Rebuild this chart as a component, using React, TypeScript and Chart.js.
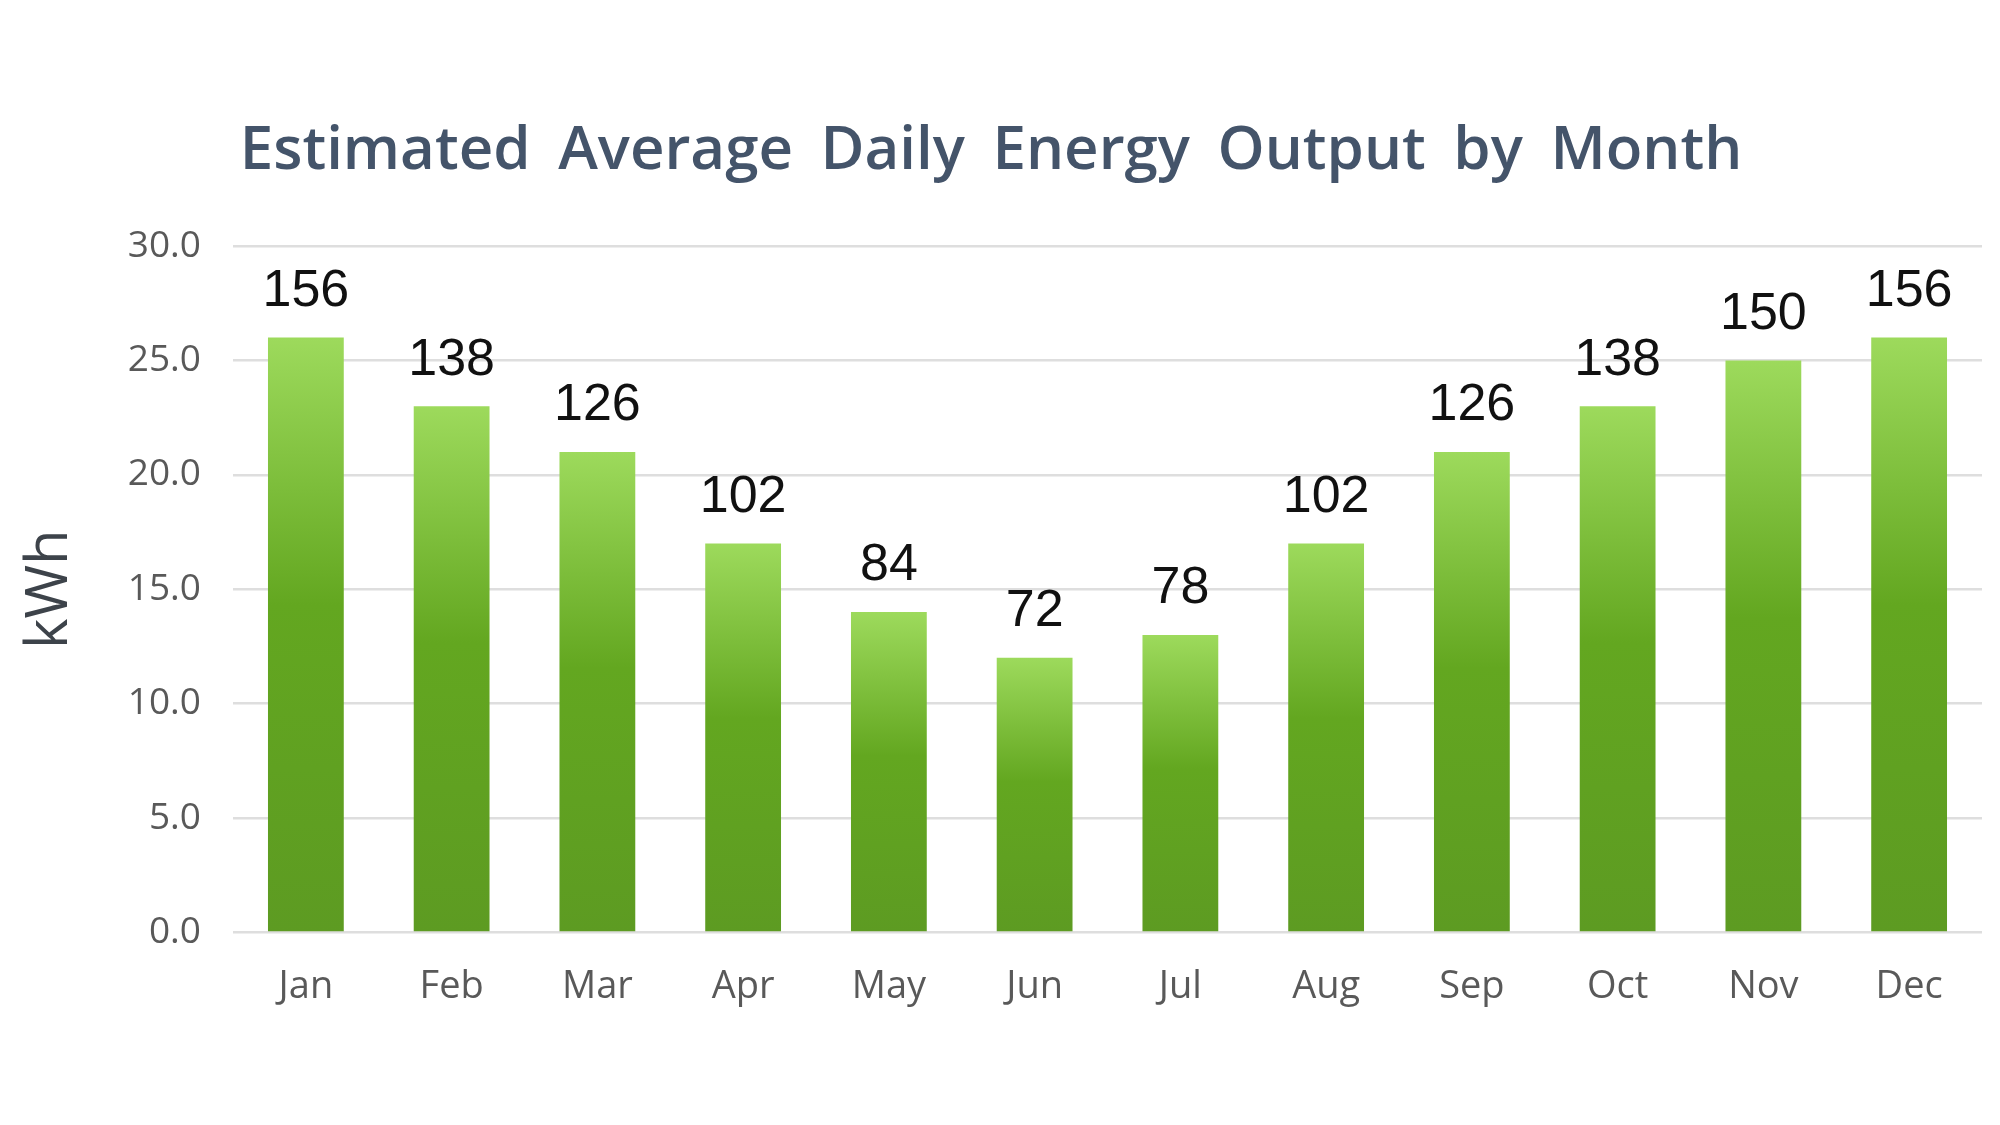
import React, { useEffect, useRef } from 'react';
import { Chart, registerables } from 'chart.js';
import type { Plugin, ScriptableContext } from 'chart.js';

Chart.register(...registerables);

const months = ['Jan', 'Feb', 'Mar', 'Apr', 'May', 'Jun', 'Jul', 'Aug', 'Sep', 'Oct', 'Nov', 'Dec'];
const dailyKwh = [26, 23, 21, 17, 14, 12, 13, 17, 21, 23, 25, 26];
const monthlyLabels = ['156', '138', '126', '102', '84', '72', '78', '102', '126', '138', '150', '156'];
const yTicks = [0, 5, 10, 15, 20, 25, 30];

// draws the numbers over each bar
const barLabels: Plugin<'bar'> = {
  id: 'barLabels',
  afterDatasetsDraw(chart) {
    const { ctx } = chart;
    const meta = chart.getDatasetMeta(0);
    ctx.save();
    ctx.font = '52px "Liberation Sans", Arial, sans-serif';
    ctx.fillStyle = '#111111';
    ctx.textAlign = 'center';
    ctx.textBaseline = 'bottom';
    meta.data.forEach((bar, i) => {
      ctx.fillText(monthlyLabels[i], bar.x, bar.y - 20);
    });
    ctx.restore();
  },
};

// wider gaps between the title words, like the original
const titleSpacing: Plugin<'bar'> = {
  id: 'titleSpacing',
  beforeDraw(chart) {
    (chart.ctx as any).wordSpacing = '12px';
  },
  beforeDatasetsDraw(chart) {
    (chart.ctx as any).wordSpacing = '0px';
  },
};

const barGradient = (context: ScriptableContext<'bar'>) => {
  const chart = context.chart;
  const y = chart.scales.y;
  if (!chart.chartArea || !y) return '#63a622';
  const value = dailyKwh[context.dataIndex] ?? 0;
  const top = y.getPixelForValue(value);
  const bottom = y.getPixelForValue(0);
  const g = chart.ctx.createLinearGradient(0, top, 0, bottom);
  g.addColorStop(0, '#9dda5c');
  g.addColorStop(0.45, '#63a720');
  g.addColorStop(1, '#5d9b22');
  return g;
};

const EnergyChart: React.FC = () => {
  const canvasRef = useRef<HTMLCanvasElement>(null);
  const chartRef = useRef<Chart | null>(null);

  useEffect(() => {
    if (!canvasRef.current) return;
    if (chartRef.current) chartRef.current.destroy();

    chartRef.current = new Chart(canvasRef.current, {
      type: 'bar',
      data: {
        labels: months,
        datasets: [
          {
            data: dailyKwh,
            backgroundColor: barGradient,
            borderWidth: 0,
            categoryPercentage: 0.52,
            barPercentage: 1,
          },
        ],
      },
      options: {
        responsive: true,
        maintainAspectRatio: false,
        animation: false,
        layout: { padding: { left: 0, right: 18, top: 0, bottom: 91 } },
        plugins: {
          legend: { display: false },
          tooltip: { enabled: false },
          title: {
            display: true,
            text: 'Estimated Average Daily Energy Output by Month',
            color: '#44546a',
            font: { family: '"Open Sans", sans-serif', size: 60, weight: 600 },
            padding: { top: 116, bottom: 58 },
          },
        },
        scales: {
          x: {
            grid: { display: false },
            border: { display: false },
            ticks: {
              color: '#595959',
              padding: 24,
              font: { family: '"Open Sans", sans-serif', size: 38 },
            },
          },
          y: {
            min: 0,
            max: 30,
            afterFit: (scale) => {
              scale.width = 233;
            },
            afterBuildTicks: (scale) => {
              scale.ticks = yTicks.map((v) => ({ value: v }));
            },
            grid: { color: '#dedede', lineWidth: 2.5, drawTicks: false },
            border: { display: false },
            ticks: {
              color: '#595959',
              padding: 32,
              font: { family: '"Open Sans", sans-serif', size: 37 },
              callback: (v) => Number(v).toFixed(1),
            },
            title: {
              display: true,
              text: 'kWh',
              color: '#3d434a',
              padding: { top: 16, bottom: 0 },
              font: { family: '"Open Sans", sans-serif', size: 58 },
            },
          },
        },
      },
      plugins: [barLabels, titleSpacing],
    });

    return () => {
      if (chartRef.current) {
        chartRef.current.destroy();
        chartRef.current = null;
      }
    };
  }, []);

  return (
    <div style={{ position: 'fixed', left: 0, top: 0, width: 2000, height: 1125, background: '#ffffff' }}>
      <canvas ref={canvasRef}></canvas>
    </div>
  );
};

export default function App() {
  return <EnergyChart />;
}
